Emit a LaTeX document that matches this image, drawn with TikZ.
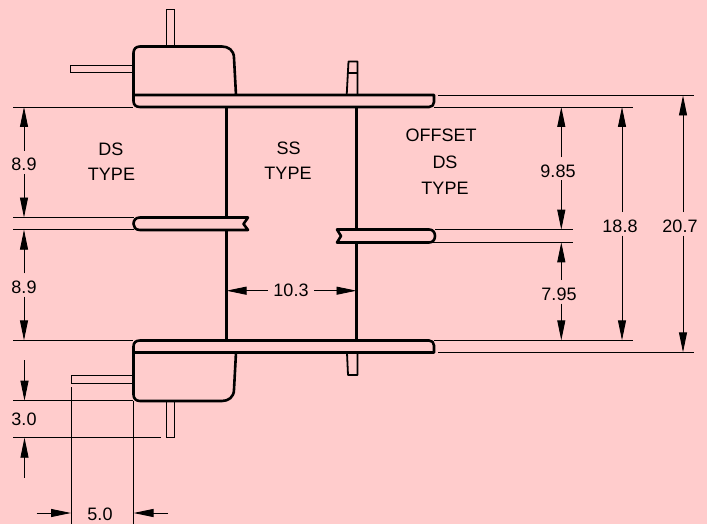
\documentclass[tikz,border=0pt]{standalone}
\usepackage{fontspec}
\setmainfont{Liberation Sans}
\usetikzlibrary{arrows.meta}
\definecolor{bgpink}{HTML}{FFCCCC}
\tikzset{
  >={Triangle[length=20pt,width=8pt]},
  outline/.style={line width=2.6pt,line join=round},
  tabline/.style={line width=1.8pt,line join=round},
  thinline/.style={line width=0.9pt},
  dimarrow/.style={thinline,->},
  typelabel/.style={inner sep=0pt,font=\fontsize{18}{20}\selectfont},
  dimlabel/.style={typelabel,text height=20pt,text depth=3pt},
}
\begin{document}
\begin{tikzpicture}[x=1pt,y=-1pt]
\fill[bgpink] (0,0) rectangle (707,524);
\useasboundingbox (0,0) rectangle (707,524);
% top flange and bobbin
\draw[outline] (133.5,95) -- (434,95) -- (434,102) .. controls (434,105) and (432,107) .. (429,107)
  -- (140,107) .. controls (136,107) and (133.5,105) .. (133.5,101)
  -- (133.5,53) .. controls (133.5,49) and (136,46.5) .. (140,46.5)
  -- (222,46.5) .. controls (228,46.5) and (234,50) .. (234,58) -- (236,95);
\draw[thinline] (133,65) -- (70.5,65) -- (70.5,72) -- (133,72);
\draw[thinline] (166,46) -- (166,9.5) -- (174,9.5) -- (174,46);
%
% bottom flange and bobbin
\draw[outline] (133.5,352.5) -- (434,352.5) -- (434,345.5) .. controls (434,342.5) and (432,340.5) .. (429,340.5)
  -- (140,340.5) .. controls (136,340.5) and (133.5,342.5) .. (133.5,346.5)
  -- (133.5,394.5) .. controls (133.5,398.5) and (136,401) .. (140,401)
  -- (222,401) .. controls (228,401) and (234,397.5) .. (234,389.5) -- (236,352.5);
\draw[thinline] (133,375) -- (71,375) -- (71,383) -- (133,383);
\draw[thinline] (166,401) -- (166,437.7) -- (174,437.7) -- (174,401);
%
% middle flanges
\draw[outline] (248,217.5) -- (140,217.5) .. controls (135.5,217.5) and (133.5,220.5) .. (133.5,224)
  .. controls (133.5,227) and (135.5,230) .. (140,230) -- (248,230) -- (243.5,224) -- cycle;
\draw[outline] (337,229.5) -- (429,229.5) .. controls (433,229.5) and (435,232.5) .. (435,236)
  .. controls (435,239.5) and (433,242.5) .. (429,242.5) -- (337,242.5) -- (341,236) -- cycle;
%
% walls
\draw[outline] (226.5,107) -- (226.5,217.5);
\draw[outline] (226.5,230) -- (226.5,340.5);
\draw[outline] (356.5,107) -- (356.5,229.5);
\draw[outline] (356.5,242.5) -- (356.5,340.5);
%
% small tabs
\draw[tabline] (346.7,95) -- (348.5,61.5) -- (357.5,61.5) -- (357.5,95);
\draw[tabline] (348,73) -- (357.5,73);
\draw[tabline] (347,353) -- (348,375) -- (357.5,375) -- (357.5,353);
%
% extension lines
\draw[thinline] (13,107) -- (133,107);
\draw[thinline] (13,217.5) -- (134,217.5);
\draw[thinline] (13,229.7) -- (134,229.7);
\draw[thinline] (13,340.3) -- (133,340.3);
\draw[thinline] (13,400.7) -- (133,400.7);
\draw[thinline] (13,437.7) -- (161,437.7);
\draw[thinline] (71,387) -- (71,524);
\draw[thinline] (133.5,401) -- (133.5,524);
\draw[thinline] (438,95.5) -- (694,95.5);
\draw[thinline] (434,107) -- (633,107);
\draw[thinline] (435,229.7) -- (573,229.7);
\draw[thinline] (433,242.3) -- (573,242.3);
\draw[thinline] (434,340.3) -- (633,340.3);
\draw[thinline] (438,352.3) -- (694,352.3);
%
\node[typelabel](dsa) at (111,149) {DS};
\node[typelabel](dstype) at (111.5,174) {TYPE};
\node[typelabel](ssa) at (288.7,148) {SS};
\node[typelabel](sstype) at (288,173) {TYPE};
\node[typelabel](offset) at (441,135) {OFFSET};
\node[typelabel](dsb) at (445,162.7) {DS};
\node[typelabel](offtype) at (445,188) {TYPE};
%
\node[dimlabel](upper) at (24,162.3) {8.9};
\coordinate(uppert) at (24,107);
\coordinate(upperb) at (24,217.5);
\draw[dimarrow](upper.north) -- (uppert);
\draw[dimarrow](upper.south) -- (upperb);
%
\node[dimlabel](lower) at (24,285) {8.9};
\coordinate(lowert) at (24,229.7);
\coordinate(lowerb) at (24,340.3);
\draw[dimarrow](lower.north) -- (lowert);
\draw[dimarrow](lower.south) -- (lowerb);
%
\node[typelabel](pinh) at (24,419) {3.0};
\coordinate(pinht) at (24.5,400.7);
\coordinate(pinhb) at (24.5,437.7);
\coordinate(pinhta) at (24.5,360);
\coordinate(pinhba) at (24.5,477.7);
\draw[dimarrow](pinhta) -- (pinht);
\draw[dimarrow](pinhba) -- (pinhb);
%
\node[typelabel](pinw) at (100,514) {5.0};
\coordinate(pinwl) at (71,513);
\coordinate(pinwr) at (133.5,513);
\coordinate(pinwla) at (36.6,513);
\coordinate(pinwra) at (168,513);
\draw[dimarrow](pinwla) -- (pinwl);
\draw[dimarrow](pinwra) -- (pinwr);
%
\node[typelabel,minimum width=46pt](wall) at (291,290.7) {10.3};
\coordinate(walll) at (226.5,290.7);
\coordinate(wallr) at (356.5,290.7);
\draw[dimarrow](wall.west) -- (walll);
\draw[dimarrow](wall.east) -- (wallr);
%
\node[dimlabel](offtop) at (558,168.8) {9.85};
\coordinate(offtopt) at (561.3,107);
\coordinate(offtopb) at (561.3,229.7);
\draw[dimarrow](offtop.north -| offtopt) -- (offtopt);
\draw[dimarrow](offtop.south -| offtopb) -- (offtopb);
%
\node[dimlabel](offbot) at (559,291.8) {7.95};
\coordinate(offbott) at (561.3,242.3);
\coordinate(offbotb) at (561.3,340.3);
\draw[dimarrow](offbot.north -| offbott) -- (offbott);
\draw[dimarrow](offbot.south -| offbotb) -- (offbotb);
%
\node[dimlabel](inner) at (620,223.8) {18.8};
\coordinate(innert) at (622,107);
\coordinate(innerb) at (622,340.3);
\draw[dimarrow](inner.north -| innert) -- (innert);
\draw[dimarrow](inner.south -| innerb) -- (innerb);
%
\node[dimlabel](outer) at (680,223.8) {20.7};
\coordinate(outert) at (683,95.5);
\coordinate(outerb) at (683,352.3);
\draw[dimarrow](outer.north -| outert) -- (outert);
\draw[dimarrow](outer.south -| outerb) -- (outerb);
\end{tikzpicture}
\end{document}
